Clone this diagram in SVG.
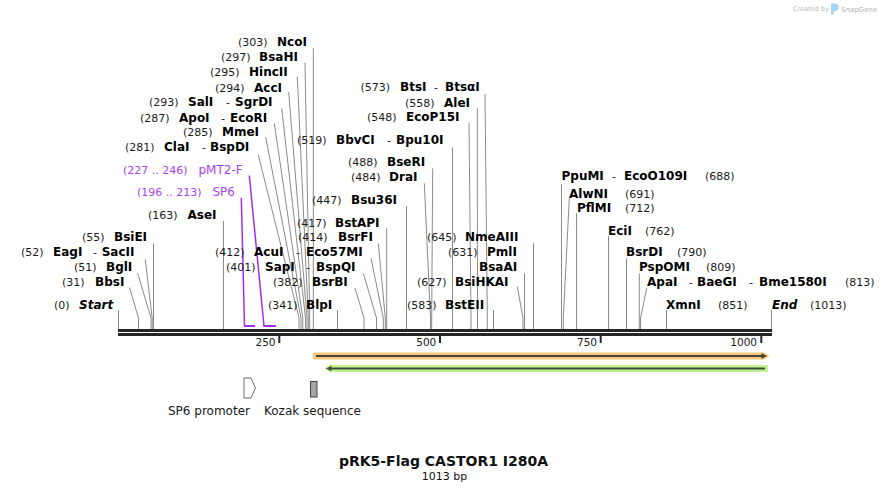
<svg xmlns="http://www.w3.org/2000/svg" width="890" height="492" viewBox="0 0 890 492">
<style>
text { font-family: "DejaVu Sans", Verdana, sans-serif; }
.n { font-size: 11px; fill: #1a1a1a; }
.e { font-size: 12px; font-weight: bold; fill: #000; }
.ei { font-size: 12px; font-weight: bold; font-style: italic; fill: #000; }
.pn { font-size: 11px; fill: #a845f2; }
.pe { font-size: 12px; fill: #a845f2; }
.tk { font-size: 10.5px; fill: #1a1a1a; text-anchor: end; }
.fl { font-size: 12px; fill: #1a1a1a; }
#connectors polyline { stroke: #8a8a8a; stroke-width: 1; fill: none; }
#connectors .pl { stroke: #a030f0; stroke-width: 1.5; fill: none; }
.pb { fill: #a030f0; }
</style>
<rect width="890" height="492" fill="#fff"/>

<g id="logo">
  <text x="793" y="10.5" style="font-size:6.5px;fill:#b8b8b8">Created by</text>
  <path d="M831,3.5 h4 a3.8,3.8 0 0 1 0,7.6 h-1.2 v3.4 h-2.8 z" fill="#a8d6f4"/>
  <text x="841" y="11.5" style="font-size:7px;fill:#b0b4b8">SnapGene</text>
</g>

<g id="connectors">
  <polyline points="118.5,310 118.5,329"/>
  <polyline points="129.5,287.5 138.5,318 138.5,329"/>
  <polyline points="137.7,273.3 151,318 151,329"/>
  <polyline points="145.3,259.3 152.2,318 152.2,329"/>
  <polyline points="153.5,243.3 153.5,329"/>
  <polyline points="223.5,221 223.5,329"/>
  <polyline points="258.3,155 299,318 299,329"/>
  <polyline points="265.7,137.3 301,318 301,329"/>
  <polyline points="274.3,123.3 302.8,318 302.8,329"/>
  <polyline points="281.7,108.7 305.5,318 305.5,329"/>
  <polyline points="288.7,92 307,318 307,329"/>
  <polyline points="297.3,76.7 308.3,318 308.3,329"/>
  <polyline points="305,62.7 309.7,318 309.7,329"/>
  <polyline points="313.3,48.3 313.3,329"/>
  <polyline points="337.5,310 337.5,329"/>
  <polyline points="355,288 364,318 364,329"/>
  <polyline points="363.3,273.3 376.5,318 376.5,329"/>
  <polyline points="371,258.3 383.3,318 383.3,329"/>
  <polyline points="378.3,243.3 385.3,318 385.3,329"/>
  <polyline points="386.7,228.3 386.7,329"/>
  <polyline points="406.5,206 406.5,329"/>
  <polyline points="424.3,183.3 430.5,318 430.5,329"/>
  <polyline points="432.7,168.3 431.7,318 431.7,329"/>
  <polyline points="452.5,147.3 452.5,329"/>
  <polyline points="469,122.7 471,318 471,329"/>
  <polyline points="477.3,108.3 477.5,329"/>
  <polyline points="485,94 487.3,318 487.3,329"/>
  <polyline points="493.5,310 493.5,329"/>
  <polyline points="517.3,286.7 523,318 523,329"/>
  <polyline points="524.5,273.3 524.5,329"/>
  <polyline points="533.5,243.3 533.5,329"/>
  <polyline points="561.5,184 561.5,329"/>
  <polyline points="569.3,198.3 563.3,318 563.3,329"/>
  <polyline points="576.5,213.3 576.5,329"/>
  <polyline points="608.5,236 608.5,329"/>
  <polyline points="626.5,258.3 626.5,329"/>
  <polyline points="639.3,273.3 639.3,329"/>
  <polyline points="646.7,288.3 640.5,318 640.5,329"/>
  <polyline points="666.5,310 666.5,329"/>
  <polyline points="771.5,310 771.5,329"/>
  <polyline class="pl" points="241.3,197.7 244.5,326"/>
  <polyline class="pl" points="249.3,175.5 264,326"/>
</g>

<g id="backbone">
  <rect x="118" y="329" width="654" height="3" fill="#262626"/>
  <rect x="118" y="333" width="654" height="3" fill="#262626"/>
  <g stroke="#262626" stroke-width="2">
    <line x1="279.3" y1="336" x2="279.3" y2="343"/>
    <line x1="440" y1="336" x2="440" y2="343"/>
    <line x1="600.7" y1="336" x2="600.7" y2="343"/>
    <line x1="761.3" y1="336" x2="761.3" y2="343"/>
  </g>
  <text class="tk" x="275.5" y="346">250</text>
  <text class="tk" x="436.3" y="346">500</text>
  <text class="tk" x="597" y="346">750</text>
  <text class="tk" x="757" y="346">1000</text>
</g>

<g id="site-Start"><text class="n" x="54" y="308.7">(0)</text><text class="ei" x="79" y="308.7">Start</text></g>
<g id="site-BbsI"><text class="n" x="62" y="286.1">(31)</text><text class="e" x="95" y="286.1">BbsI</text></g>
<g id="site-BglI"><text class="n" x="74" y="271.1">(51)</text><text class="e" x="106" y="271.1">BglI</text></g>
<g id="site-EagI"><text class="n" x="21" y="256.1">(52)</text><text class="e" x="53" y="256.1">EagI</text><text class="n" x="93" y="256.1">-</text><text class="e" x="101.7" y="256.1">SacII</text></g>
<g id="site-BsiEI"><text class="n" x="82" y="241.1">(55)</text><text class="e" x="114" y="241.1">BsiEI</text></g>
<g id="site-AseI"><text class="n" x="148" y="218.7">(163)</text><text class="e" x="187.5" y="218.7">AseI</text></g>

<g id="primer-SP6"><text class="pn" x="137" y="196.4">(196 .. 213)</text><text class="pe" x="212.5" y="196.4">SP6</text><rect class="pb" x="244" y="325" width="11.2" height="2"/></g>
<g id="primer-pMT2-F"><text class="pn" x="123" y="174.4">(227 .. 246)</text><text class="pe" x="198.5" y="174.4">pMT2-F</text><rect class="pb" x="263.3" y="325" width="12.5" height="2"/></g>

<g id="site-ClaI"><text class="n" x="125" y="151.1">(281)</text><text class="e" x="164" y="151.1">ClaI</text><text class="n" x="202" y="151.1">-</text><text class="e" x="210" y="151.1">BspDI</text></g>
<g id="site-MmeI"><text class="n" x="183" y="136.1">(285)</text><text class="e" x="222" y="136.1">MmeI</text></g>
<g id="site-ApoI"><text class="n" x="140" y="121.7">(287)</text><text class="e" x="179" y="121.7">ApoI</text><text class="n" x="221" y="121.7">-</text><text class="e" x="230" y="121.7">EcoRI</text></g>
<g id="site-SalI"><text class="n" x="149" y="106.1">(293)</text><text class="e" x="188" y="106.1">SalI</text><text class="n" x="226" y="106.1">-</text><text class="e" x="235" y="106.1">SgrDI</text></g>
<g id="site-AccI"><text class="n" x="215" y="91.7">(294)</text><text class="e" x="254" y="91.7">AccI</text></g>
<g id="site-HincII"><text class="n" x="210" y="76.1">(295)</text><text class="e" x="249" y="76.1">HincII</text></g>
<g id="site-BsaHI"><text class="n" x="221" y="61.1">(297)</text><text class="e" x="259" y="61.1">BsaHI</text></g>
<g id="site-NcoI"><text class="n" x="238" y="46.4">(303)</text><text class="e" x="277" y="46.4">NcoI</text></g>

<g id="site-BlpI"><text class="n" x="268" y="308.7">(341)</text><text class="e" x="306" y="308.7">BlpI</text></g>
<g id="site-BsrBI"><text class="n" x="273" y="286.1">(382)</text><text class="e" x="312" y="286.1">BsrBI</text></g>
<g id="site-SapI"><text class="n" x="226" y="271.1">(401)</text><text class="e" x="265" y="271.1">SapI</text><text class="n" x="306" y="271.1">-</text><text class="e" x="316" y="271.1">BspQI</text></g>
<g id="site-AcuI"><text class="n" x="215" y="256.1">(412)</text><text class="e" x="254" y="256.1">AcuI</text><text class="n" x="296" y="256.1">-</text><text class="e" x="306" y="256.1">Eco57MI</text></g>
<g id="site-BsrFI"><text class="n" x="298" y="241.1">(414)</text><text class="e" x="338" y="241.1">BsrFI</text></g>
<g id="site-BstAPI"><text class="n" x="297" y="226.7">(417)</text><text class="e" x="335" y="226.7">BstAPI</text></g>
<g id="site-Bsu36I"><text class="n" x="312" y="204.4">(447)</text><text class="e" x="351" y="204.4">Bsu36I</text></g>
<g id="site-DraI"><text class="n" x="351" y="181.1">(484)</text><text class="e" x="389" y="181.1">DraI</text></g>
<g id="site-BseRI"><text class="n" x="348" y="166.1">(488)</text><text class="e" x="387" y="166.1">BseRI</text></g>
<g id="site-BbvCI"><text class="n" x="297" y="144.4">(519)</text><text class="e" x="336" y="144.4">BbvCI</text><text class="n" x="387" y="144.4">-</text><text class="e" x="396" y="144.4">Bpu10I</text></g>
<g id="site-EcoP15I"><text class="n" x="367" y="121.1">(548)</text><text class="e" x="406" y="121.1">EcoP15I</text></g>
<g id="site-AleI"><text class="n" x="405" y="106.7">(558)</text><text class="e" x="444" y="106.7">AleI</text></g>
<g id="site-BtsI"><text class="n" x="360.5" y="91.1">(573)</text><text class="e" x="400" y="91.1">BtsI</text><text class="n" x="434" y="91.1">-</text><text class="e" x="445" y="91.1">BtsαI</text></g>
<g id="site-BstEII"><text class="n" x="407" y="308.7">(583)</text><text class="e" x="445" y="308.7">BstEII</text></g>
<g id="site-BsiHKAI"><text class="n" x="417" y="286.1">(627)</text><text class="e" x="455" y="286.1">BsiHKAI</text></g>
<g id="site-PmlI"><text class="n" x="448" y="256.1">(631)</text><text class="e" x="487" y="256.1">PmlI</text><text class="e" x="479" y="271.1">BsaAI</text></g>
<g id="site-NmeAIII"><text class="n" x="427" y="241.1">(645)</text><text class="e" x="465" y="241.1">NmeAIII</text></g>

<g id="site-PpuMI"><text class="e" x="561.5" y="180.4">PpuMI</text><text class="n" x="612" y="180.4">-</text><text class="e" x="624" y="180.4">EcoO109I</text><text class="n" x="705" y="180.4">(688)</text></g>
<g id="site-AlwNI"><text class="e" x="569" y="197.7">AlwNI</text><text class="n" x="625" y="197.7">(691)</text></g>
<g id="site-PflMI"><text class="e" x="577" y="211.7">PflMI</text><text class="n" x="625" y="211.7">(712)</text></g>
<g id="site-EciI"><text class="e" x="608" y="235.1">EciI</text><text class="n" x="645" y="235.1">(762)</text></g>
<g id="site-BsrDI"><text class="e" x="626" y="256.1">BsrDI</text><text class="n" x="677" y="256.1">(790)</text></g>
<g id="site-PspOMI"><text class="e" x="639" y="271.1">PspOMI</text><text class="n" x="706" y="271.1">(809)</text></g>
<g id="site-ApaI"><text class="e" x="647" y="286.1">ApaI</text><text class="n" x="689" y="286.1">-</text><text class="e" x="697" y="286.1">BaeGI</text><text class="n" x="749" y="286.1">-</text><text class="e" x="759" y="286.1">Bme1580I</text><text class="n" x="845" y="286.1">(813)</text></g>
<g id="site-XmnI"><text class="e" x="666" y="308.7">XmnI</text><text class="n" x="718" y="308.7">(851)</text></g>
<g id="site-End"><text class="ei" x="772" y="308.7">End</text><text class="n" x="810" y="308.7">(1013)</text></g>

<g id="feature-orange">
  <polygon points="313,352.5 762,352.5 762,351.5 769.5,356 762,360.5 762,359.5 313,359.5" fill="#f9c87c"/>
  <line x1="316" y1="356" x2="763" y2="356" stroke="#4a4238" stroke-width="2"/>
  <polygon points="761.5,353.3 767,356 761.5,358.7" fill="#4a4238"/>
</g>
<g id="feature-green">
  <polygon points="768,365 331,365 331,364 324.5,368.5 331,373 331,372 768,372" fill="#c2f290"/>
  <line x1="330" y1="368.5" x2="765" y2="368.5" stroke="#3f4e36" stroke-width="2"/>
  <polygon points="331.5,365.8 326,368.5 331.5,371.2" fill="#3f4e36"/>
</g>

<g id="feature-SP6-promoter">
  <polygon points="244,378 251,378 255.5,388 251,398 244,398" fill="#fff" stroke="#6e6e6e" stroke-width="1"/>
  <text class="fl" x="168" y="415">SP6 promoter</text>
</g>
<g id="feature-Kozak">
  <rect x="310.5" y="381.5" width="6.5" height="15.5" fill="#a2a6aa" stroke="#444" stroke-width="1"/>
  <text class="fl" x="264" y="415">Kozak sequence</text>
</g>

<g id="title">
  <text x="443.5" y="466" text-anchor="middle" style="font-size:14px;font-weight:bold;fill:#111">pRK5-Flag CASTOR1 I280A</text>
  <text x="444.5" y="480" text-anchor="middle" style="font-size:11px;fill:#111">1013 bp</text>
</g>
</svg>
